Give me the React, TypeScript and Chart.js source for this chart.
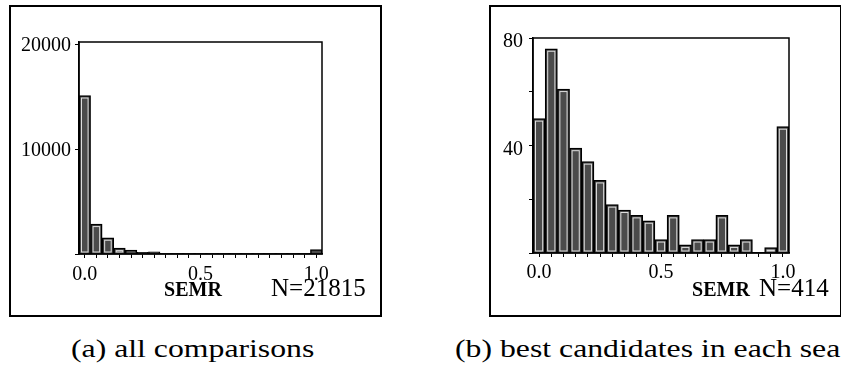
import React, { useEffect, useRef } from 'react';
import { Chart, registerables } from 'chart.js';

Chart.register(...registerables);

// ---- data ----
const binCenters = [
  '0.00', '0.05', '0.10', '0.15', '0.20', '0.25', '0.30', '0.35', '0.40', '0.45', '0.50',
  '0.55', '0.60', '0.65', '0.70', '0.75', '0.80', '0.85', '0.90', '0.95', '1.00',
];
const xTickLabels = ['0.0', '0.5', '1.0'];

// (a) all comparisons, N=21815
const allComparisons = [
  15100, 2850, 1550, 560, 380, 170, 210, 60, 40, 30, 25,
  20, 15, 15, 10, 10, 10, 10, 10, 15, 420,
];
const yTicksA = [0, 10000, 20000];
const yLabelsA = [10000, 20000];

// (b) best candidates in each search, N=414
const bestCandidates = [
  50, 76, 61, 39, 34, 27, 18, 16, 14, 12, 5,
  14, 3, 5, 5, 14, 3, 5, 0, 2, 47,
];
const yTicksB = [0, 20, 40, 60, 80];
const yLabelsB = [40, 80];

const FONT = '"Liberation Serif", "Times New Roman", serif';

const barDecor = {
  id: 'barDecor',
  afterDatasetsDraw(chart: any) {
    const { ctx, chartArea: a } = chart;
    const meta = chart.getDatasetMeta(0);
    ctx.save();
    ctx.strokeStyle = '#dedede';
    ctx.lineWidth = 1;
    meta.data.forEach((el: any) => {
      const p = el.getProps(['x', 'y', 'base', 'width'], true);
      const l = p.x - p.width / 2 + 2.5;
      const r = p.x + p.width / 2 - 2.5;
      const t = Math.min(p.y, p.base) + 2.5;
      const b = Math.max(p.y, p.base) - 1.5;
      if (b - t > 0.5 && r > l) ctx.strokeRect(l, t, r - l, b - t);
    });
    ctx.strokeStyle = '#000';
    ctx.lineWidth = 1.5;
    ctx.strokeRect(a.left, a.top, a.right - a.left, a.bottom - a.top);
    ctx.restore();
  },
};

type HistProps = {
  left: number;
  top: number;
  width: number;
  height: number;
  data: number[];
  yMax: number;
  yTicks: number[];
  yLabels: number[];
  padding: { left: number; top: number; right: number; bottom: number };
  yWidth: number;
  xHeight: number;
  yPad: number;
  xPad: number;
  yLabelOffset: number;
};

function Histogram(props: HistProps) {
  const ref = useRef<HTMLCanvasElement | null>(null);
  useEffect(() => {
    const chart = new Chart(ref.current as HTMLCanvasElement, {
      type: 'bar',
      data: {
        labels: binCenters,
        datasets: [
          {
            data: props.data,
            backgroundColor: '#4b4b4b',
            borderColor: '#000',
            borderWidth: 1.5,
            categoryPercentage: 1,
            barPercentage: 1,
          },
        ],
      },
      options: {
        responsive: false,
        animation: false,
        devicePixelRatio: 1,
        layout: { padding: props.padding },
        plugins: { legend: { display: false }, tooltip: { enabled: false } },
        scales: {
          x: {
            type: 'category',
            offset: true,
            grid: {
              display: true,
              drawOnChartArea: false,
              drawTicks: true,
              tickLength: 4,
              color: '#000',
              offset: false,
            },
            border: { display: true, color: '#000', width: 1.5 },
            ticks: {
              autoSkip: false,
              maxRotation: 0,
              minRotation: 0,
              padding: props.xPad,
              color: '#000',
              font: { family: FONT, size: 20 },
              callback: (_v: any, i: number) => {
                const c = Number(binCenters[i]);
                const f = xTickLabels.find((t) => Number(t) === c);
                return f ?? '';
              },
            },
            afterFit: (s: any) => {
              s.height = props.xHeight;
            },
          },
          y: {
            type: 'linear',
            min: 0,
            max: props.yMax,
            afterBuildTicks: (s: any) => {
              s.ticks = props.yTicks.map((v) => ({ value: v }));
            },
            grid: {
              display: true,
              drawOnChartArea: false,
              drawTicks: true,
              tickLength: 4,
              color: '#000',
            },
            border: { display: true, color: '#000', width: 1.5 },
            ticks: {
              padding: props.yPad,
              labelOffset: props.yLabelOffset,
              color: '#000',
              font: { family: FONT, size: 20 },
              callback: (v: any) => (props.yLabels.includes(Number(v)) ? String(v) : ''),
            },
            afterFit: (s: any) => {
              s.width = props.yWidth;
            },
          },
        },
      },
      plugins: [barDecor],
    } as any);
    let alive = true;
    const fonts = (document as any).fonts;
    if (fonts && fonts.load) {
      Promise.all([
        fonts.load('20px "Liberation Serif"'),
        fonts.load('bold 20px "Liberation Serif"'),
      ]).then(() => {
        if (alive) chart.update();
      }, () => {});
    }
    return () => {
      alive = false;
      chart.destroy();
    };
  }, []);
  return (
    <canvas
      ref={ref}
      width={props.width}
      height={props.height}
      style={{
        position: 'absolute',
        left: props.left,
        top: props.top,
        width: props.width,
        height: props.height,
      }}
    />
  );
}

const txt = (extra: React.CSSProperties): React.CSSProperties => ({
  position: 'absolute',
  fontFamily: FONT,
  color: '#000',
  lineHeight: 1,
  whiteSpace: 'nowrap',
  ...extra,
});

export default function App() {
  return (
    <div
      style={{
        position: 'absolute',
        left: 0,
        top: 0,
        width: 841,
        height: 369,
        overflow: 'hidden',
        background: '#fff',
      }}
    >
      {/* panel frames */}
      <div
        style={{
          position: 'absolute',
          left: 9,
          top: 5,
          width: 373,
          height: 312,
          border: '2px solid #000',
          boxSizing: 'border-box',
        }}
      />
      <div
        style={{
          position: 'absolute',
          left: 489,
          top: 5,
          width: 353,
          height: 312,
          border: '2px solid #000',
          boxSizing: 'border-box',
        }}
      />

      <Histogram
        left={0}
        top={0}
        width={382}
        height={300}
        data={allComparisons}
        yMax={20200}
        yTicks={yTicksA}
        yLabels={yLabelsA}
        padding={{ left: 0, top: 42, right: 60, bottom: 0 }}
        yWidth={79}
        xHeight={46}
        yPad={4}
        xPad={5}
        yLabelOffset={2}
      />
      <Histogram
        left={420}
        top={0}
        width={421}
        height={300}
        data={bestCandidates}
        yMax={80}
        yTicks={yTicksB}
        yLabels={yLabelsB}
        padding={{ left: 0, top: 38, right: 52, bottom: 0 }}
        yWidth={113}
        xHeight={47}
        yPad={6}
        xPad={4}
        yLabelOffset={4}
      />

      <div style={txt({ left: 93, top: 279, width: 200, textAlign: 'center', fontSize: 20, fontWeight: 'bold' })}>
        SEMR
      </div>
      <div style={txt({ left: 271, top: 275, fontSize: 25 })}>N=21815</div>

      <div style={txt({ left: 621, top: 279, width: 200, textAlign: 'center', fontSize: 20, fontWeight: 'bold' })}>
        SEMR
      </div>
      <div style={txt({ left: 759, top: 275, fontSize: 25 })}>N=414</div>

      <div
        style={txt({
          left: 71,
          top: 336,
          fontSize: 25,
          transform: 'scaleX(1.27)',
          transformOrigin: 'left top',
        })}
      >
        (a) all comparisons
      </div>
      <div
        style={txt({
          left: 455,
          top: 336,
          fontSize: 25,
          transform: 'scaleX(1.27)',
          transformOrigin: 'left top',
        })}
      >
        (b) best candidates in each sea
      </div>
    </div>
  );
}
